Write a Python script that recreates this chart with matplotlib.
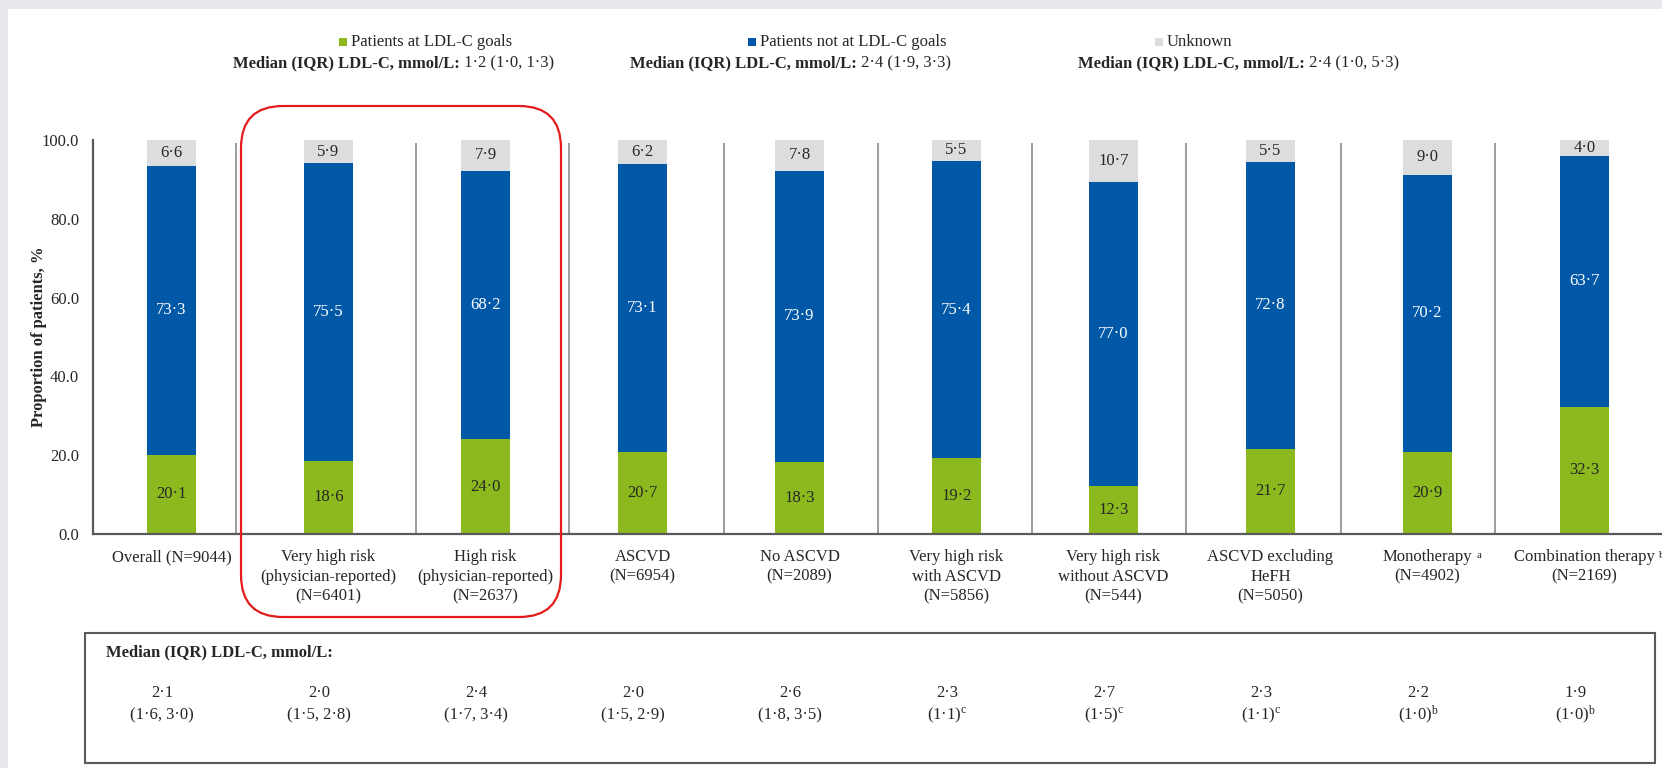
import numpy as np
import matplotlib
matplotlib.use('Agg')
import matplotlib.pyplot as plt
import matplotlib.transforms as mtransforms
from matplotlib.patches import Rectangle, FancyBboxPatch

# data
categories = [
    "Overall (N=9044)",
    "Very high risk\n(physician-reported)\n(N=6401)",
    "High risk\n(physician-reported)\n(N=2637)",
    "ASCVD\n(N=6954)",
    "No ASCVD\n(N=2089)",
    "Very high risk\nwith ASCVD\n(N=5856)",
    "Very high risk\nwithout ASCVD\n(N=544)",
    "ASCVD excluding\nHeFH\n(N=5050)",
    "Monotherapy\n(N=4902)",
    "Combination therapy\n(N=2169)",
]
cat_notes = ["", "", "", "", "", "", "", "", "a", "b"]
at_goal = np.array([20.1, 18.6, 24.0, 20.7, 18.3, 19.2, 12.3, 21.7, 20.9, 32.3])
not_at_goal = np.array([73.3, 75.5, 68.2, 73.1, 73.9, 75.4, 77.0, 72.8, 70.2, 63.7])
unknown = np.array([6.6, 5.9, 7.9, 6.2, 7.8, 5.5, 10.7, 5.5, 9.0, 4.0])

median_ldl = ["2·1", "2·0", "2·4", "2·0", "2·6", "2·3", "2·7", "2·3", "2·2", "1·9"]
iqr_ldl = ["(1·6, 3·0)", "(1·5, 2·8)", "(1·7, 3·4)", "(1·5, 2·9)", "(1·8, 3·5)",
           "(1·1)$^{\\mathrm{c}}$", "(1·5)$^{\\mathrm{c}}$", "(1·1)$^{\\mathrm{c}}$",
           "(1·0)$^{\\mathrm{b}}$", "(1·0)$^{\\mathrm{b}}$"]

legend_names = ["Patients at LDL-C goals", "Patients not at LDL-C goals", "Unknown"]
legend_medians = ["1·2 (1·0, 1·3)", "2·4 (1·9, 3·3)", "2·4 (1·0, 5·3)"]

GREEN = '#8CBA1E'
BLUE = '#0058A6'
GREY = '#DCDDDF'
TXT = '#262626'

plt.rcParams['font.family'] = ['Liberation Serif', 'DejaVu Serif']
plt.rcParams['mathtext.fontset'] = 'custom'
plt.rcParams['mathtext.rm'] = 'Liberation Serif'
plt.rcParams['mathtext.it'] = 'Liberation Serif:italic'
plt.rcParams['mathtext.bf'] = 'Liberation Serif:bold'
plt.rcParams['font.size'] = 12

W, H = 1662, 768
fig = plt.figure(figsize=(W / 100, H / 100), dpi=100)
fig.patch.set_facecolor('white')

def fy(py):
    # pixel row from top -> figure fraction
    return 1 - py / H

# slide frame bits
fig.add_artist(Rectangle((0, 0), 8 / W, 1, transform=fig.transFigure, color='#E8E9EC', lw=0))
fig.add_artist(Rectangle((0, fy(9)), 1, 9 / H, transform=fig.transFigure, color='#E8E9EC', lw=0))

ax = fig.add_axes([93 / W, fy(534), 1570 / W, 394 / H])
x = np.arange(len(categories))
bw = 0.31
ax.bar(x, at_goal, bw, color=GREEN, zorder=2)
ax.bar(x, not_at_goal, bw, bottom=at_goal, color=BLUE, zorder=2)
ax.bar(x, unknown, bw, bottom=at_goal + not_at_goal, color=GREY, zorder=2)

def fmt(v):
    return f"{v:.1f}".replace('.', '·')

for i in x:
    ax.text(i, at_goal[i] / 2, fmt(at_goal[i]), ha='center', va='center', color=TXT, zorder=3)
    ax.text(i, at_goal[i] + not_at_goal[i] / 2, fmt(not_at_goal[i]), ha='center', va='center',
            color='white', zorder=3)
    ax.text(i, at_goal[i] + not_at_goal[i] + unknown[i] / 2, fmt(unknown[i]), ha='center',
            va='center', color=TXT, zorder=3)

# thin separators between groups
div_x = [0.41, 1.56, 2.53, 3.52, 4.50, 5.48, 6.46, 7.45, 8.43]
ax.vlines(div_x, 0, 99.2, color='#8C8C8C', lw=1.2, zorder=1)

ax.set_xlim(-0.5, 9.5)
ax.set_ylim(0, 100)
ax.set_yticks(np.arange(0, 101, 20))
ax.set_yticklabels([f"{v:.1f}" for v in np.arange(0, 101, 20)])
ax.set_xticks(x)
ax.set_xticklabels(categories, linespacing=1.28)
ax.tick_params(axis='both', length=0, labelsize=12, colors=TXT)
ax.tick_params(axis='x', pad=11)
ax.tick_params(axis='y', pad=10)
for s in ['top', 'right']:
    ax.spines[s].set_visible(False)
for s in ['left', 'bottom']:
    ax.spines[s].set_color('#595959')
    ax.spines[s].set_linewidth(1.6)

fig.text(39 / W, fy(337), "Proportion of patients, %", rotation=90, ha='center', va='center',
         weight='bold', color=TXT)

# legend row
sq_x = [339, 748, 1155]
for xx, name, col in zip(sq_x, legend_names, [GREEN, BLUE, GREY]):
    fig.add_artist(Rectangle((xx / 100, (H - 46) / 100), 0.08, 0.08,
                             transform=fig.dpi_scale_trans, color=col, lw=0))
    fig.text((xx + 12) / W, fy(42), name, ha='left', va='center', color=TXT)

fig.canvas.draw()
renderer = fig.canvas.get_renderer()
med_x = [233, 630, 1078]
for xx, val in zip(med_x, legend_medians):
    t = fig.text(xx / W, fy(63), "Median (IQR) LDL-C, mmol/L:", ha='left', va='center',
                 weight='bold', color=TXT)
    bb = t.get_window_extent(renderer)
    fig.text(bb.x1 / W, fy(63), " " + val, ha='left', va='center', color=TXT)

# footnote letters after the therapy labels
for lab, note in zip(ax.get_xticklabels(), cat_notes):
    if note:
        bb = lab.get_window_extent(renderer)
        fig.text((bb.x1 + 4) / W, (bb.y1 - 2) / H, note, ha='left', va='top', size=8, color=TXT)

# red highlight round the physician-reported groups
fig.add_artist(FancyBboxPatch((241 / 100, (H - 617) / 100), 320 / 100, 511 / 100,
                              boxstyle='round,pad=0,rounding_size=0.42',
                              transform=fig.dpi_scale_trans, fill=False,
                              ec='#E31B1B', lw=1.6, zorder=5))

# median LDL-C box below the chart
fig.add_artist(Rectangle((85 / 100, (H - 763) / 100), 1570 / 100, 130 / 100,
                         transform=fig.dpi_scale_trans, fill=False, ec='#5A5A5A', lw=1.5))
fig.text(106 / W, fy(652), "Median (IQR) LDL-C, mmol/L:", ha='left', va='center',
         weight='bold', color=TXT)
tr = mtransforms.blended_transform_factory(ax.transData, fig.transFigure)
for i in x:
    fig.text(i - 0.06, fy(693), median_ldl[i], ha='center', va='center', color=TXT, transform=tr)
    fig.text(i - 0.06, fy(715), iqr_ldl[i], ha='center', va='center', color=TXT, transform=tr)

fig.savefig('out.png', dpi=100)
